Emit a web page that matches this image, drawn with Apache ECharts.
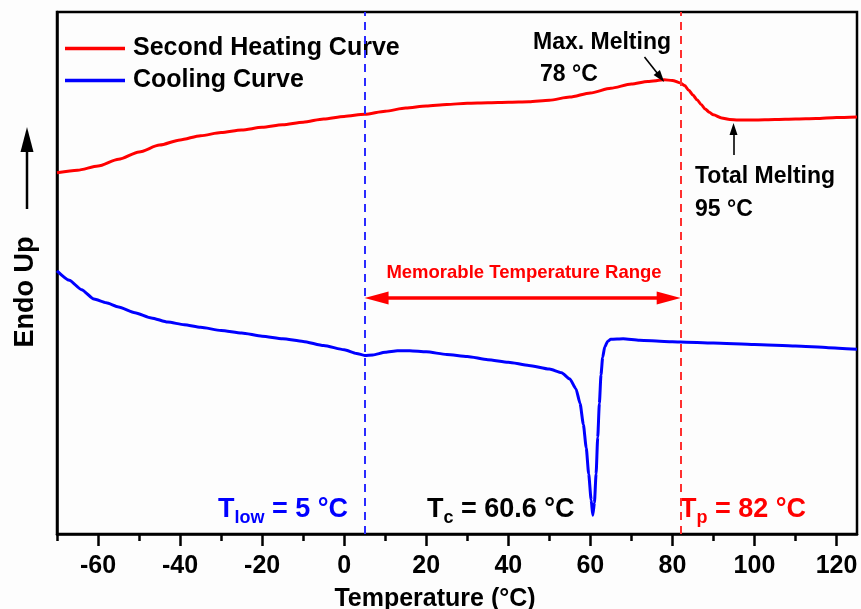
<!DOCTYPE html>
<html>
<head>
<meta charset="utf-8">
<script src="https://cdn.jsdelivr.net/npm/echarts@6/dist/echarts.min.js"></script>
<style>
  html, body { margin: 0; padding: 0; background: #fdfdfd; }
  #chart { width: 861px; height: 609px; }
</style>
</head>
<body>
<div id="chart"></div>
<script>
// DSC thermogram: second heating and cooling scans (heat flow, arbitrary units, endo up)
const heatT = [-70, -65, -60, -55, -50, -45, -40, -35, -30, -25, -20, -15, -10, -5, 0, 5, 10, 15, 20, 25, 30, 35, 40, 45, 50, 55, 60, 65, 70, 74, 78, 80, 82, 83, 84, 85, 86, 87, 88, 89, 90, 92, 94, 96, 100, 105, 110, 115, 120, 125];
const heatFlow = [69.2, 69.7, 70.5, 71.8, 73.2, 74.5, 75.5, 76.3, 76.9, 77.4, 77.9, 78.4, 78.9, 79.5, 80.0, 80.4, 81.0, 81.6, 82.0, 82.3, 82.5, 82.6, 82.7, 82.8, 83.1, 83.7, 84.5, 85.4, 86.2, 86.7, 87.0, 86.9, 86.4, 85.9, 85.0, 84.1, 83.2, 82.3, 81.4, 80.8, 80.3, 79.7, 79.4, 79.3, 79.3, 79.4, 79.5, 79.6, 79.8, 79.9];

const coolT = [-70, -67, -64, -61, -58, -55, -51, -47, -43, -39, -35, -30, -25, -20, -15, -10, -5, 0, 3, 5, 7, 10, 13, 16, 20, 25, 30, 35, 40, 45, 50, 53, 55, 56.5, 57.5, 58.3, 59, 59.6, 60.2, 60.6, 61.0, 61.4, 61.8, 62.2, 62.6, 63.0, 63.5, 64.2, 65, 68, 72, 78, 82, 90, 100, 110, 118, 125];
const coolFlow = [50.4, 48.6, 46.8, 45.0, 44.3, 43.5, 42.4, 41.4, 40.6, 40.1, 39.6, 39.0, 38.5, 37.9, 37.4, 36.9, 36.1, 35.3, 34.6, 34.2, 34.3, 34.8, 35.1, 35.1, 34.9, 34.4, 34.0, 33.4, 32.9, 32.3, 31.6, 30.9, 29.7, 27.8, 25.0, 21.0, 16.5, 11.5, 6.5, 3.6, 6.0, 11.5, 18.5, 25.0, 30.5, 33.8, 35.8, 36.9, 37.3, 37.4, 37.1, 36.9, 36.8, 36.6, 36.3, 36.0, 35.7, 35.4];

const majorTicks = [-60, -40, -20, 0, 20, 40, 60, 80, 100, 120];
const minorTicks = [-70, -50, -30, -10, 10, 30, 50, 70, 90, 110];

const T_LOW = 5;
const T_C = 60.6;
const T_P = 82;
const T_MAX_MELT = 78;
const T_TOTAL_MELT = 95;

const FONT = '"Liberation Sans", Arial, Helvetica, sans-serif';
const RED = '#ff0000';
const BLUE = '#0000ff';

const pairs = (xs, ys) => xs.map((x, i) => [x, ys[i]]);

const chart = echarts.init(document.getElementById('chart'), null, { renderer: 'canvas' });

const option = {
  backgroundColor: '#fdfdfd',
  animation: false,
  grid: {
    left: 57, right: 4, top: 12, bottom: 75,
    show: true, borderColor: '#000', borderWidth: 2.5, backgroundColor: 'transparent'
  },
  xAxis: [
    {
      type: 'value', min: -70, max: 125, position: 'bottom',
      axisLine: { show: true, onZero: false, lineStyle: { color: '#000', width: 2.5 } },
      axisTick: { show: true, inside: false, length: 12, customValues: majorTicks, lineStyle: { color: '#000', width: 2.5 } },
      axisLabel: { show: true, customValues: majorTicks, margin: 20, color: '#000', fontSize: 25, fontWeight: 'bold', fontFamily: FONT },
      splitLine: { show: false }
    },
    {
      type: 'value', min: -70, max: 125, position: 'bottom', gridIndex: 0,
      axisLine: { show: false, onZero: false },
      axisTick: { show: true, inside: false, length: 7, customValues: minorTicks, lineStyle: { color: '#000', width: 2.5 } },
      axisLabel: { show: false },
      splitLine: { show: false }
    }
  ],
  yAxis: {
    type: 'value', min: 0, max: 100,
    axisLine: { show: true, onZero: false, lineStyle: { color: '#000', width: 2.5 } },
    axisTick: { show: false },
    axisLabel: { show: false },
    splitLine: { show: false }
  },
  legend: {
    show: true, orient: 'vertical', left: 65, top: 36, itemGap: 7, padding: 0,
    itemWidth: 60, itemHeight: 3.5, icon: 'rect',
    data: ['Second Heating Curve', 'Cooling Curve'],
    textStyle: { color: '#000', fontSize: 25, fontWeight: 'bold', fontFamily: FONT, padding: [0, 0, 0, 3] }
  },
  series: [
    {
      name: 'Second Heating Curve', type: 'line', xAxisIndex: 0,
      data: pairs(heatT, heatFlow),
      symbol: 'none', smooth: 0.25, smoothMonotone: 'x',
      lineStyle: { color: RED, width: 3 }, itemStyle: { color: RED }
    },
    {
      name: 'Cooling Curve', type: 'line', xAxisIndex: 0,
      data: pairs(coolT, coolFlow),
      symbol: 'none', smooth: 0.2, smoothMonotone: 'x',
      lineStyle: { color: BLUE, width: 3 }, itemStyle: { color: BLUE }
    },
    {
      // guide lines and annotation arrows
      name: 'annotations', type: 'line', xAxisIndex: 0, data: [],
      silent: true,
      markLine: {
        silent: true, animation: false,
        symbol: 'none',
        label: { show: false },
        emphasis: { disabled: true },
        data: [
          { xAxis: T_LOW, lineStyle: { color: '#2b2bff', type: [8, 6], width: 2 } },
          { xAxis: T_P, lineStyle: { color: '#ff3030', type: [8, 6], width: 2 } },
          [
            { coord: [T_LOW + 2.9, 45.2], symbol: 'triangle', symbolSize: [13, 24], lineStyle: { color: RED, width: 3.5, type: 'solid' }, itemStyle: { color: RED } },
            { coord: [T_P - 2.9, 45.2], symbol: 'triangle', symbolSize: [13, 24], itemStyle: { color: RED } }
          ],
          [
            { coord: [73.2, 91.4], symbol: 'none', lineStyle: { color: '#000', width: 1.6, type: 'solid' }, itemStyle: { color: '#000' } },
            { coord: [T_MAX_MELT - 0.9, 87.5], symbol: 'triangle', symbolSize: [8, 12], itemStyle: { color: '#000' } }
          ],
          [
            { coord: [T_TOTAL_MELT - 0.1, 72.6], symbol: 'none', lineStyle: { color: '#000', width: 1.6, type: 'solid' }, itemStyle: { color: '#000' } },
            { coord: [T_TOTAL_MELT - 0.1, 77.6], symbol: 'triangle', symbolSize: [8, 12], itemStyle: { color: '#000' } }
          ]
        ]
      }
    }
  ],
  graphic: [
    { type: 'text', x: 435, y: 599, style: { text: 'Temperature (°C)', fill: '#000', font: 'bold 25px ' + FONT, align: 'center', verticalAlign: 'middle' } },
    { type: 'text', x: 26, y: 292, rotation: Math.PI / 2, style: { text: 'Endo Up', fill: '#000', font: 'bold 27px ' + FONT, align: 'center', verticalAlign: 'middle' } },
    { type: 'line', shape: { x1: 27, y1: 209, x2: 27, y2: 148 }, style: { stroke: '#000', lineWidth: 2.5 } },
    { type: 'polygon', shape: { points: [[27, 127], [20.5, 152], [33.5, 152]] }, style: { fill: '#000' } },

    { type: 'text', x: 533, y: 43, style: { text: 'Max. Melting', fill: '#000', font: 'bold 23px ' + FONT, align: 'left', verticalAlign: 'middle' } },
    { type: 'text', x: 540, y: 75, style: { text: T_MAX_MELT + ' °C', fill: '#000', font: 'bold 23px ' + FONT, align: 'left', verticalAlign: 'middle' } },
    { type: 'text', x: 695, y: 177, style: { text: 'Total Melting', fill: '#000', font: 'bold 23px ' + FONT, align: 'left', verticalAlign: 'middle' } },
    { type: 'text', x: 695, y: 210, style: { text: T_TOTAL_MELT + ' °C', fill: '#000', font: 'bold 23px ' + FONT, align: 'left', verticalAlign: 'middle' } },
    { type: 'text', x: 524, y: 273, style: { text: 'Memorable Temperature Range', fill: RED, font: 'bold 18.5px ' + FONT, align: 'center', verticalAlign: 'middle' } },

    {
      type: 'text', x: 218, y: 510,
      style: {
        text: '{m|T}{s|low}{m| = ' + T_LOW + ' °C}', align: 'left', verticalAlign: 'middle',
        rich: {
          m: { fill: BLUE, fontSize: 27, fontWeight: 'bold', fontFamily: FONT },
          s: { fill: BLUE, fontSize: 18, fontWeight: 'bold', fontFamily: FONT, padding: [16, 0, 0, 0] }
        }
      }
    },
    {
      type: 'text', x: 427, y: 510,
      style: {
        text: '{m|T}{s|c}{m| = ' + T_C + ' °C}', align: 'left', verticalAlign: 'middle',
        rich: {
          m: { fill: '#000', fontSize: 27, fontWeight: 'bold', fontFamily: FONT },
          s: { fill: '#000', fontSize: 18, fontWeight: 'bold', fontFamily: FONT, padding: [16, 0, 0, 0] }
        }
      }
    },
    {
      type: 'text', x: 680, y: 510,
      style: {
        text: '{m|T}{s|p}{m| = ' + T_P + ' °C}', align: 'left', verticalAlign: 'middle',
        rich: {
          m: { fill: RED, fontSize: 27, fontWeight: 'bold', fontFamily: FONT },
          s: { fill: RED, fontSize: 18, fontWeight: 'bold', fontFamily: FONT, padding: [16, 0, 0, 0] }
        }
      }
    }
  ]
};

chart.setOption(option);
</script>
</body>
</html>
